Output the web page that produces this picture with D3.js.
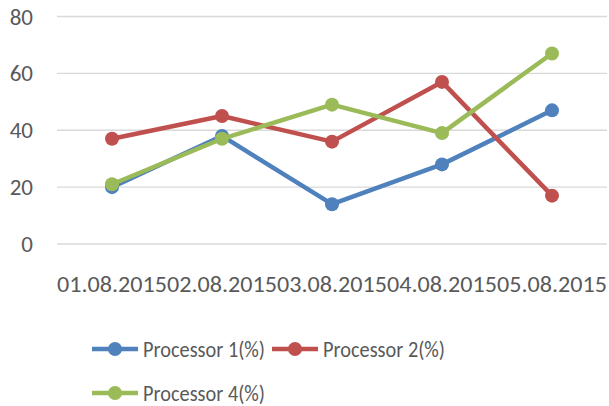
<!DOCTYPE html>
<html>
<head>
<meta charset="utf-8">
<script src="https://cdn.jsdelivr.net/npm/d3@7"></script>
<style>
  body { margin: 0; background: #fff; }
  text { font-family: Carlito, "Liberation Sans", "Open Sans", sans-serif; fill: #595959; }
</style>
</head>
<body>
<svg id="chart" width="609" height="406"></svg>
<script>
var dates = ['01.08.2015', '02.08.2015', '03.08.2015', '04.08.2015', '05.08.2015'];
var proc1 = [20, 38, 14, 28, 47];
var proc2 = [37, 45, 36, 57, 17];
var proc4 = [21, 37, 49, 39, 67];
var yTicks = [0, 20, 40, 60, 80];

var series = [
  { name: 'Processor 1(%)', values: proc1, color: '#4F81BD' },
  { name: 'Processor 2(%)', values: proc2, color: '#C0504D' },
  { name: 'Processor 4(%)', values: proc4, color: '#9BBB59' }
];

var svg = d3.select('#chart');
var plotLeft = 57, plotRight = 607, plotTop = 16.5, plotBottom = 244;

var x = d3.scaleBand().domain(dates).range([plotLeft, plotRight]);
var y = d3.scaleLinear().domain([0, 80]).range([plotBottom, plotTop]);

// gridlines
svg.append('g')
  .selectAll('line')
  .data(yTicks)
  .join('line')
  .attr('x1', plotLeft).attr('x2', plotRight)
  .attr('y1', function (d) { return y(d); })
  .attr('y2', function (d) { return y(d); })
  .attr('stroke', '#D9D9D9')
  .attr('stroke-width', 1.3);

// y labels
svg.append('g')
  .selectAll('text')
  .data(yTicks)
  .join('text')
  .attr('x', 33)
  .attr('y', function (d) { return y(d) + 8; })
  .attr('text-anchor', 'end')
  .attr('font-size', 23)
  .text(function (d) { return d; });

// x labels
svg.append('g')
  .selectAll('text')
  .data(dates)
  .join('text')
  .attr('x', function (d) { return x(d) + x.bandwidth() / 2; })
  .attr('y', 292)
  .attr('text-anchor', 'middle')
  .attr('font-size', 23)
  .attr('textLength', 110)
  .attr('lengthAdjust', 'spacingAndGlyphs')
  .text(function (d) { return d; });

var line = d3.line()
  .x(function (d, i) { return x(dates[i]) + x.bandwidth() / 2; })
  .y(function (d) { return y(d); });

var g = svg.append('g')
  .selectAll('g')
  .data(series)
  .join('g');

g.append('path')
  .attr('d', function (s) { return line(s.values); })
  .attr('fill', 'none')
  .attr('stroke', function (s) { return s.color; })
  .attr('stroke-width', 4.5)
  .attr('stroke-linejoin', 'round');

g.selectAll('circle')
  .data(function (s) { return s.values.map(function (v, i) { return { v: v, i: i, color: s.color }; }); })
  .join('circle')
  .attr('cx', function (d) { return x(dates[d.i]) + x.bandwidth() / 2; })
  .attr('cy', function (d) { return y(d.v); })
  .attr('r', 7)
  .attr('fill', function (d) { return d.color; });

// legend
var legendPos = [[92, 349], [272, 349], [92, 393]];
var lg = svg.append('g')
  .selectAll('g')
  .data(series)
  .join('g')
  .attr('transform', function (s, i) { return 'translate(' + legendPos[i][0] + ',' + legendPos[i][1] + ')'; });

lg.append('line')
  .attr('x1', 0).attr('x2', 46)
  .attr('stroke', function (s) { return s.color; })
  .attr('stroke-width', 4.5);

lg.append('circle')
  .attr('cx', 23)
  .attr('r', 7)
  .attr('fill', function (s) { return s.color; });

lg.append('text')
  .attr('x', 51)
  .attr('y', 7.5)
  .attr('font-size', 23)
  .attr('textLength', 122)
  .attr('lengthAdjust', 'spacingAndGlyphs')
  .text(function (s) { return s.name; });
</script>
</body>
</html>
